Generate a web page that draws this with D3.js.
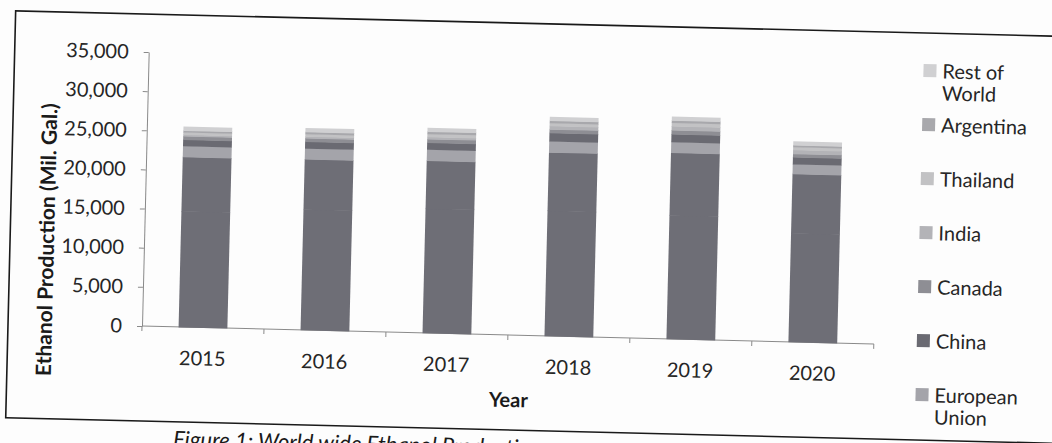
<!DOCTYPE html>
<html>
<head>
<meta charset="utf-8">
<script src="https://cdn.jsdelivr.net/npm/d3@7"></script>
<style>
  body { margin: 0; background: #fdfdfd; }
  text { font-family: Lato, "Open Sans", sans-serif; }
</style>
</head>
<body>
<svg id="chart" width="1052" height="443"></svg>
<script>
// data (Mil. Gal.)
const years = ["2015", "2016", "2017", "2018", "2019", "2020"];
const seriesNames = ["United States", "Brazil", "European Union", "China", "Canada",
                     "India", "Thailand", "Argentina", "Rest of World"];
const unitedStates  = [14800, 15400, 15900, 16000, 15800, 13900];
const brazil        = [6940, 6440, 6130, 7470, 8000, 7580];
const europeanUnion = [1390, 1380, 1420, 1430, 1370, 1250];
const china         = [810, 850, 880, 1050, 1000, 880];
const canada        = [440, 440, 450, 460, 520, 430];
const india         = [190, 230, 280, 430, 510, 500];
const thailand      = [330, 320, 390, 390, 430, 390];
const argentina     = [210, 260, 290, 290, 290, 200];
const restOfWorld   = [500, 490, 470, 480, 480, 480];
const yTicks = [0, 5000, 10000, 15000, 20000, 25000, 30000, 35000];

const seriesValues = [unitedStates, brazil, europeanUnion, china, canada,
                      india, thailand, argentina, restOfWorld];
const colors = ["#6e6e76", "#6e6e76", "#a4a4aa", "#6a6a72", "#8e8e94",
                "#b3b3b7", "#c2c2c4", "#a8a8ac", "#d0d0d2"];

// build table for d3.stack
let table = [];
for (let i = 0; i < years.length; i++) {
    let row = { year: years[i] };
    for (let j = 0; j < seriesNames.length; j++) {
        row[seriesNames[j]] = seriesValues[j][i];
    }
    table.push(row);
}
const stacked = d3.stack().keys(seriesNames)(table);

const svg = d3.select("#chart");
svg.append("rect").attr("width", 1052).attr("height", 443).attr("fill", "#fdfdfd");

// the scan is tilted a little, so everything sits in one rotated group
const x0 = 142, y0 = 326;
const g = svg.append("g").attr("transform", "rotate(1.4," + x0 + "," + y0 + ")");

// frame around the chart
const frameTop = 14, frameBottom = 421;
g.append("rect")
    .attr("x", 8).attr("y", frameTop)
    .attr("width", 1100).attr("height", frameBottom - frameTop)
    .attr("fill", "none")
    .attr("stroke", "#1a1a1a")
    .attr("stroke-width", 1.6);

const xScale = d3.scaleBand().domain(years).range([x0, 874]).paddingInner(0.6).paddingOuter(0.3);
const yScale = d3.scaleLinear().domain([0, 35000]).range([y0, 52]);

// y axis
const yAxis = g.append("g")
    .attr("transform", "translate(" + x0 + ",0)")
    .call(d3.axisLeft(yScale).tickValues(yTicks).tickSize(5).tickSizeOuter(0)
        .tickPadding(15).tickFormat(d3.format(",")));
yAxis.select(".domain").attr("stroke", "#8a8a8a");
yAxis.selectAll(".tick line").attr("stroke", "#8a8a8a");
yAxis.selectAll(".tick text")
    .attr("font-size", "20px")
    .attr("fill", "#262626")
    .attr("font-family", "Lato, sans-serif");

// x axis with marks between the categories
const step = xScale.step();
g.append("line")
    .attr("x1", x0).attr("x2", 874)
    .attr("y1", y0).attr("y2", y0)
    .attr("stroke", "#8a8a8a");
for (let i = 0; i <= years.length; i++) {
    g.append("line")
        .attr("x1", x0 + i * step).attr("x2", x0 + i * step)
        .attr("y1", y0).attr("y2", y0 + 5)
        .attr("stroke", "#8a8a8a");
}
g.append("g").selectAll("text")
    .data(years)
    .enter().append("text")
    .attr("x", function (d) { return xScale(d) + xScale.bandwidth() / 2; })
    .attr("y", 364)
    .attr("text-anchor", "middle")
    .attr("font-size", "20px")
    .attr("fill", "#262626")
    .text(function (d) { return d; });

// stacked bars
g.append("g").selectAll("g")
    .data(stacked)
    .enter().append("g")
    .attr("fill", function (d, i) { return colors[i]; })
    .selectAll("rect")
    .data(function (d) { return d; })
    .enter().append("rect")
    .attr("x", function (d) { return xScale(d.data.year); })
    .attr("y", function (d) { return yScale(d[1]); })
    .attr("width", xScale.bandwidth())
    .attr("height", function (d) { return yScale(d[0]) - yScale(d[1]) + 0.5; });

// axis titles
g.append("text")
    .attr("x", 510).attr("y", 398)
    .attr("text-anchor", "middle")
    .attr("font-size", "20px")
    .attr("font-weight", "bold")
    .attr("fill", "#1a1a1a")
    .text("Year");

g.append("text")
    .attr("transform", "translate(52,242) rotate(-90)")
    .attr("text-anchor", "middle")
    .attr("font-size", "21px")
    .attr("font-weight", "bold")
    .attr("fill", "#1a1a1a")
    .text("Ethanol Production (Mil. Gal.)");

// legend, top of stack first; entries below the frame are not shown
const legendOrder = seriesNames.slice().reverse();
const legend = g.append("g");
for (let i = 0; i < legendOrder.length; i++) {
    let name = legendOrder[i];
    let y = 52 + i * 54;
    let idx = seriesNames.indexOf(name);
    let lines = [name];
    if (name.length > 10) {
        let k = name.lastIndexOf(" ");
        lines = [name.slice(0, k), name.slice(k + 1)];
    }
    if (y + 7 + (lines.length - 1) * 22 > frameBottom - 8) break;
    legend.append("rect")
        .attr("x", 917).attr("y", y - 7)
        .attr("width", 13).attr("height", 13)
        .attr("fill", colors[idx]);
    let t = legend.append("text")
        .attr("x", 936).attr("y", y + 7)
        .attr("font-size", "20px")
        .attr("fill", "#262626");
    for (let j = 0; j < lines.length; j++) {
        t.append("tspan")
            .attr("x", 936)
            .attr("dy", j === 0 ? 0 : 22)
            .text(lines[j]);
    }
}

// caption under the frame, mostly cut off by the page edge
g.append("text")
    .attr("x", 176).attr("y", 446)
    .attr("font-family", "'Liberation Serif', serif")
    .attr("font-style", "italic")
    .attr("font-size", "22px")
    .attr("fill", "#1a1a1a")
    .text("Figure 1: World wide Ethanol Production");
</script>
</body>
</html>
